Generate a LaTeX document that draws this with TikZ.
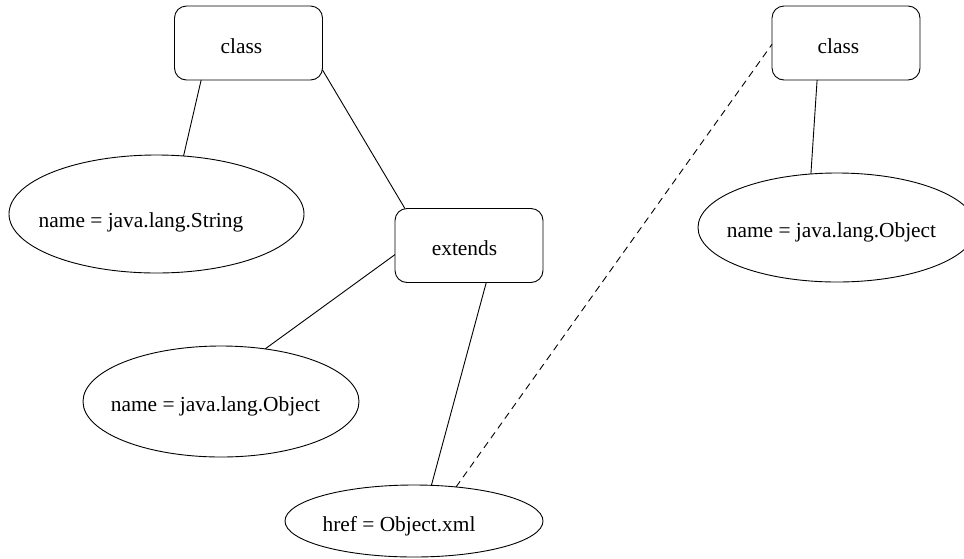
\documentclass[tikz,border=0pt]{standalone}
\usepackage{fontspec}
\setmainfont{Liberation Serif}
\usetikzlibrary{shapes.geometric}

% Zero-size box holding a label: baseline #2pt below the node centre,
% horizontal centre shifted by #1pt.
\newcommand\placetext[3]{\raisebox{-#2pt}[0pt][0pt]{\makebox[0pt]{\hspace*{#1pt}\hspace*{#1pt}#3}}}

\tikzset{
  every node/.style={inner sep=0pt, outer sep=0pt, font=\fontsize{21.4pt}{24pt}\selectfont},
  elembox/.style={draw, line width=0.9pt, rectangle, rounded corners=12pt,
                  minimum width=148pt, minimum height=74pt},
  attroval/.style={draw, line width=0.9pt, ellipse},
  link/.style={draw, line width=0.9pt},
  reflink/.style={link, dash pattern=on 7pt off 5pt},
}

\begin{document}
\begin{tikzpicture}[x=1pt, y=-1pt]
  \useasboundingbox (0,0) rectangle (964,558);

  % element boxes
  \node[elembox] (c1)  at (248.5,43)  {\placetext{-7}{10}{class}};
  \node[elembox] (ext) at (469,245.5) {\placetext{-4.5}{9.5}{extends}};
  \node[elembox] (c2)  at (846,43)    {\placetext{-7.5}{10}{class}};

  % attribute ovals
  \node[attroval, minimum width=295pt, minimum height=118pt] (sname) at (156.5,214)
       {\placetext{-15.5}{13}{name = java.lang.String}};
  \node[attroval, minimum width=276pt, minimum height=111pt] (oname) at (221,401.5)
       {\placetext{-5.5}{9.5}{name = java.lang.Object}};
  \node[attroval, minimum width=278pt, minimum height=109pt] (rname) at (837,227.5)
       {\placetext{-5.5}{9.5}{name = java.lang.Object}};
  \node[attroval, minimum width=258pt, minimum height=72pt] (href) at (414,521)
       {\placetext{-15}{10}{href = Object.xml}};

  % tree edges
  \draw[link] (c1.218.5)  -- (sname.65.4);
  \draw[link] (c1.340)    -- (ext.150.7);
  \draw[link] (ext.187.3) -- (oname.50.3);
  \draw[link] (ext.295.6) -- (href.64.1);
  \draw[link] (c2.232.9)  -- (rname.116.8);

  % cross reference
  \draw[reflink] (href.39.6) -- (c2.181.5);
\end{tikzpicture}
\end{document}
